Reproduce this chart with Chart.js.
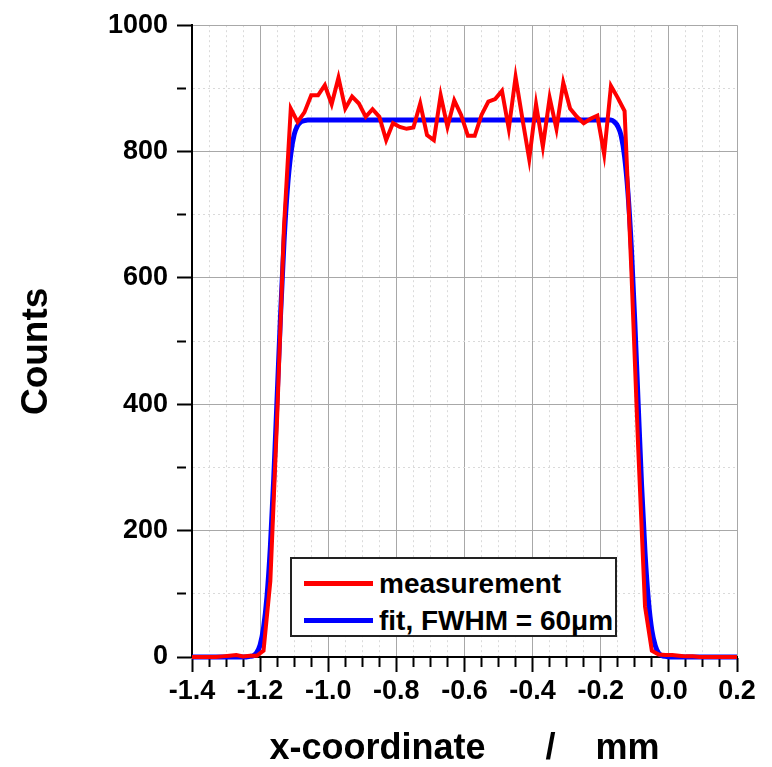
<!DOCTYPE html>
<html>
<head>
<meta charset="utf-8">
<script src="https://cdn.jsdelivr.net/npm/chart.js@4.4.0/dist/chart.umd.min.js"></script>
<style>
  html, body { margin: 0; padding: 0; background: #fff; }
  #wrap { position: relative; width: 772px; height: 767px; }
  #legend {
    position: absolute; left: 290px; top: 557px; width: 327px; height: 80px;
    box-sizing: border-box; border: 2px solid #222; background: #fff;
    font: bold 28px "Liberation Sans", Arial, sans-serif; color: #000;
  }
  .item { position: absolute; left: 0; height: 32px; line-height: 32px; white-space: nowrap; }
  .swatch { position: absolute; left: 12px; top: 13px; width: 69px; height: 5px; }
  .label { position: absolute; left: 87px; top: 0; }
</style>
</head>
<body>
<div id="wrap">
  <canvas id="grafico" width="772" height="767"></canvas>
  <div id="legend"></div>
</div>
<script>
// measured profile, step 0.02 mm
const measX = [-1.41, -1.39, -1.37, -1.35, -1.33, -1.31, -1.29, -1.27, -1.25, -1.23,
  -1.21, -1.19, -1.17, -1.15, -1.13,
  -1.11, -1.09, -1.07, -1.05, -1.03, -1.01, -0.99, -0.97, -0.95, -0.93,
  -0.91, -0.89, -0.87, -0.85, -0.83, -0.81, -0.79, -0.77, -0.75, -0.73,
  -0.71, -0.69, -0.67, -0.65, -0.63, -0.61, -0.59, -0.57, -0.55, -0.53,
  -0.51, -0.49, -0.47, -0.45, -0.43, -0.41, -0.39, -0.37, -0.35, -0.33,
  -0.31, -0.29, -0.27, -0.25, -0.23, -0.21, -0.19, -0.17, -0.15, -0.13,
  -0.11, -0.09, -0.07, -0.05, -0.03, -0.01, 0.01, 0.03, 0.05, 0.07,
  0.09, 0.11, 0.13, 0.15, 0.17, 0.19, 0.21];
const measY = [0, 0, 0, 0, 0, 1, 2, 3, 1, 2,
  2, 10, 120, 380, 680,
  868, 847, 862, 889, 889, 905, 875, 917, 868, 887,
  876, 855, 867, 855, 818, 845, 839, 836, 838, 876,
  826, 818, 889, 839, 881, 858, 825, 825, 858, 879,
  883, 896, 836, 918, 852, 788, 875, 808, 885, 836,
  909, 868, 855, 845, 852, 857, 796, 904, 885, 864,
  610, 330, 80, 10, 4, 3, 3, 2, 1, 1,
  0, 0, 0, 0, 0, 0, 0];

// fitted profile
const fitX = [-1.40, -1.30, -1.24, -1.23, -1.22, -1.21, -1.20, -1.19, -1.18, -1.17,
  -1.16, -1.15, -1.14, -1.13, -1.12, -1.11, -1.10, -1.09, -1.08, -1.07,
  -1.06, -0.17, -0.16, -0.15, -0.14, -0.13, -0.12, -0.11, -0.10, -0.09,
  -0.08, -0.07, -0.06, -0.05, -0.04, -0.03, -0.02, -0.01, 0.00, 0.10, 0.20];
const fitY = [0, 0, 0, 1, 2, 7, 19, 46, 95, 174,
  283, 412, 542, 656, 741, 796, 827, 841, 847, 849,
  850, 850, 847, 840, 825, 792, 734, 646, 530, 399,
  271, 165, 89, 42, 18, 6, 2, 1, 0, 0, 0];

const seriesNames = ['measurement', 'fit, FWHM = 60\u03bcm'];
const seriesColors = ['#ff0000', '#0000ff'];

const xMajorTicks = [-1.4, -1.2, -1.0, -0.8, -0.6, -0.4, -0.2, 0.0, 0.2];
const xMinorTicks = [-1.35, -1.3, -1.25, -1.15, -1.1, -1.05, -0.95, -0.9, -0.85,
  -0.75, -0.7, -0.65, -0.55, -0.5, -0.45, -0.35, -0.3, -0.25, -0.15, -0.1, -0.05,
  0.05, 0.1, 0.15];
const yMajorTicks = [0, 200, 400, 600, 800, 1000];
const yMinorTicks = [100, 300, 500, 700, 900];

const FONTE = '"Liberation Sans", Arial, sans-serif';

function ehMaior(valor, lista) {
  return lista.some(v => Math.abs(v - valor) < 1e-9);
}

function pontos(xs, ys) {
  return xs.map((x, i) => ({ x: x, y: ys[i] }));
}

// tracinho menor: só o trecho colado ao eixo (o traço começa no eixo)
function eixo(maiores, menores, rotulo, extra) {
  const maior = ctx => !ctx.tick || ehMaior(ctx.tick.value, maiores);
  return Object.assign({
    type: 'linear',
    afterBuildTicks: s => {
      s.ticks = maiores.concat(menores).sort((a, b) => a - b).map(v => ({ value: v }));
    },
    ticks: {
      autoSkip: false,
      maxRotation: 0,
      color: '#000',
      font: { family: FONTE, size: 27, weight: 'bold' },
      callback: v => ehMaior(v, maiores) ? rotulo(v) : ''
    },
    grid: {
      color: ctx => maior(ctx) ? '#a8a8a8' : '#dadada',
      lineWidth: 1,
      tickColor: '#000',
      tickWidth: 2,
      tickLength: 15,
      tickBorderDash: ctx => maior(ctx) ? [] : [9, 40]
    },
    border: {
      display: true,
      color: '#000',
      width: 2,
      dash: ctx => maior(ctx) ? [] : [2, 3]
    }
  }, extra);
}

const ctx = document.getElementById('grafico').getContext('2d');
const grafico = new Chart(ctx, {
  type: 'line',
  data: {
    datasets: [{
      label: seriesNames[0],
      data: pontos(measX, measY),
      borderColor: seriesColors[0],
      borderWidth: 4,
      pointRadius: 0,
      tension: 0,
      clip: { left: 0, right: 0, top: 5, bottom: 5 }
    }, {
      label: seriesNames[1],
      data: pontos(fitX, fitY),
      borderColor: seriesColors[1],
      borderWidth: 5,
      pointRadius: 0,
      cubicInterpolationMode: 'monotone',
      clip: { left: 0, right: 0, top: 5, bottom: 5 }
    }]
  },
  options: {
    responsive: false,
    animation: false,
    layout: { padding: { top: 23, right: 35, bottom: 0, left: 0 } },
    plugins: {
      legend: { display: false },
      tooltip: { enabled: false }
    },
    scales: {
      x: eixo(xMajorTicks, xMinorTicks, v => v.toFixed(1), {
        min: -1.4,
        max: 0.2,
        afterFit: s => { s.height = 110; },
        title: {
          display: true,
          text: 'x-coordinate      /    mm',
          color: '#000',
          font: { family: FONTE, size: 36, weight: 'bold', lineHeight: 1 },
          padding: { top: 0, bottom: 0 }
        }
      }),
      y: eixo(yMajorTicks, yMinorTicks, v => String(v), {
        min: 0,
        max: 1000,
        afterFit: s => { s.width = 192; },
        ticks: {
          autoSkip: false,
          color: '#000',
          padding: 9,
          font: { family: FONTE, size: 27, weight: 'bold' },
          callback: v => ehMaior(v, yMajorTicks) ? String(v) : ''
        },
        title: {
          display: true,
          text: 'Counts  ',
          color: '#000',
          font: { family: FONTE, size: 37, weight: 'bold', lineHeight: 1.2 },
          padding: { top: 15, bottom: 0 }
        }
      })
    }
  }
});

// legenda dentro da área do gráfico
const legenda = document.getElementById('legend');
grafico.data.datasets.forEach((ds, i) => {
  const item = document.createElement('div');
  item.className = 'item';
  item.style.top = (9 + i * 37) + 'px';
  item.innerHTML = '<span class="swatch" style="background:' + ds.borderColor + '"></span>' +
    '<span class="label">' + ds.label + '</span>';
  legenda.appendChild(item);
});
</script>
</body>
</html>
